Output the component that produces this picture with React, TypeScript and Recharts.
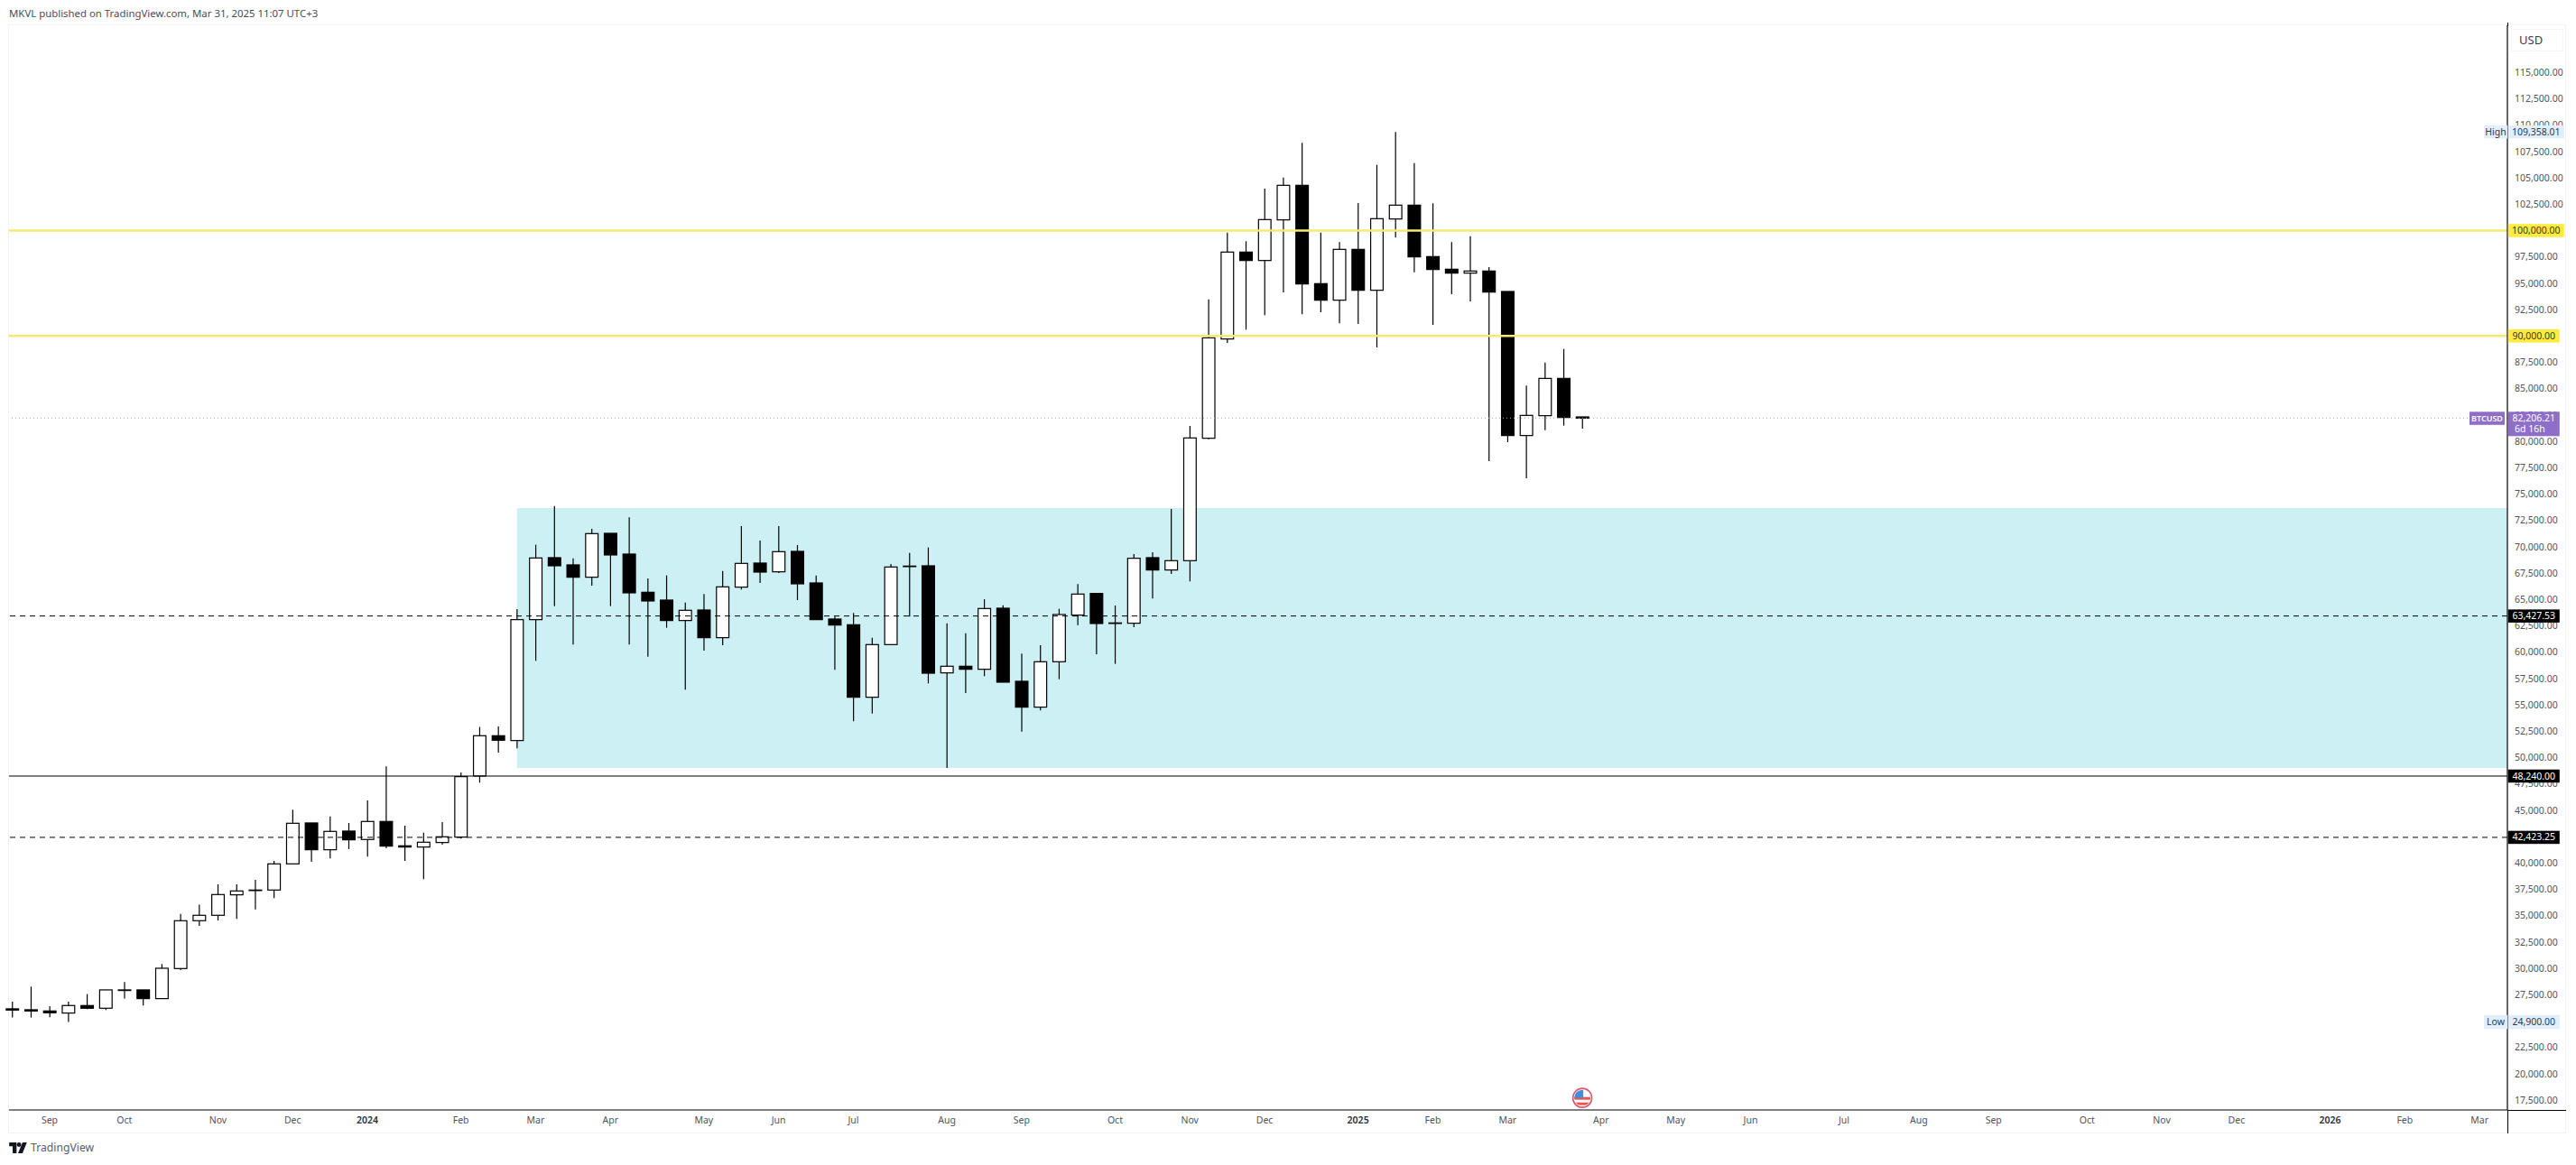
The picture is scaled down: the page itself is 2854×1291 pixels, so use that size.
import { Bar, ComposedChart, ReferenceArea, ReferenceDot, ReferenceLine, XAxis, YAxis } from 'recharts'

// weekly BTCUSD candles
const opens = [
  26153, 26067, 25953, 25754, 26467, 26210, 27894, 27951, 27123, 29977, 34515, 35029, 36970, 37398, 37426, 39909, 43791,
  41250, 43020, 42221, 43933, 41622, 41507, 41935, 42449, 48243, 52067, 51610, 63083, 68963, 68278, 67108, 71274, 69305,
  65680, 64938, 62998, 63997, 61371, 66166, 68449, 67621, 69562, 66565, 63140, 62598, 55720, 60715, 68135, 68192, 58032,
  58660, 58374, 64168, 57233, 54779, 59088, 63512, 65566, 62770, 62741, 68963, 67793, 68677, 80293, 89711, 97959, 97160,
  101013, 104295, 94963, 93393, 98216, 94335, 101099, 102411, 97531, 96333, 95961, 96161, 94221, 80551, 82434, 85972, 82319,
]
const highs = [
  26838, 28265, 26410, 26838, 27551, 27979, 28693, 27951, 30405, 35171, 36028, 37968, 37968, 38397, 40194, 45046, 43791,
  44418, 43791, 45931, 49156, 43534, 42877, 43876, 48585, 52895, 52952, 64082, 70190, 73872, 68906, 71702, 71274, 72787,
  66993, 67279, 64710, 65509, 67707, 71959, 70589, 71959, 70161, 67279, 63369, 63711, 61371, 68363, 69419, 69933, 62741,
  61799, 65024, 64453, 59858, 60657, 64111, 66451, 65566, 64425, 69305, 69476, 73586, 81463, 93479, 99814, 98987, 103981,
  105037, 108319, 99814, 98901, 102611, 106236, 109358, 106407, 102583, 98901, 99472, 96532, 94221, 85288, 87485, 88770, 82348,
]
const lows = [
  25326, 25326, 25354, 24900, 26125, 26039, 27123, 26467, 27123, 29835, 34030, 34544, 34686, 35599, 36656, 39909, 40108,
  40422, 41307, 40594, 41393, 40194, 38453, 41735, 42306, 47615, 50469, 50868, 59174, 64368, 60715, 66309, 64368, 60715,
  59573, 62313, 56433, 60144, 60657, 65937, 66565, 67507, 64938, 63083, 58317, 53437, 54179, 60657, 63369, 57033, 49013,
  56120, 57718, 57147, 52467, 54464, 57432, 62569, 59801, 58888, 62370, 65081, 67421, 66708, 80207, 89340, 90596, 91966,
  94135, 92051, 92251, 91196, 91139, 88912, 99329, 96047, 91053, 93964, 93279, 78124, 79922, 76497, 81064, 81492, 81206,
]
const closes = [
  26039, 25953, 25782, 26467, 26210, 27951, 27951, 27123, 30006, 34515, 35029, 36998, 37340, 37426, 39909, 43762, 41250,
  42992, 42192, 43933, 41593, 41507, 41964, 42478, 48186, 52067, 51639, 63083, 68934, 68192, 67108, 71246, 69220, 65623,
  64853, 62998, 63968, 61371, 66194, 68420, 67593, 69533, 66480, 63083, 62569, 55720, 60715, 68078, 68164, 57999, 58660,
  58374, 64139, 57147, 54779, 59088, 63569, 65509, 62713, 62741, 68906, 67793, 68677, 80322, 89825, 97959, 97160, 101042,
  104295, 94934, 93393, 98216, 94335, 101127, 102411, 97503, 96304, 95961, 96161, 94163, 80551, 82462, 85972, 82263, 82206,
]

const priceTicks = [
  17500, 20000, 22500, 25000, 27500, 30000, 32500, 35000, 37500, 40000, 42500, 45000, 47500, 50000, 52500, 55000, 57500,
  60000, 62500, 65000, 67500, 70000, 72500, 75000, 77500, 80000, 82500, 85000, 87500, 90000, 92500, 95000, 97500, 100000,
  102500, 105000, 107500, 110000, 112500, 115000,
]
// prices that get a coloured tag on the scale
const taggedPrices = [109358.01, 82206.21, 63427.53, 48240.01, 42423.25, 24900.01, 100000.01, 90000.01]
const timeTickSlots = [2, 6, 11, 15, 19, 24, 28, 32, 37, 41, 45, 50, 54, 59, 63, 67, 72, 76, 80, 85, 89, 93, 98, 102, 106, 111, 115, 119, 124, 128, 132]
const timeTickLabels = [
  'Sep', 'Oct', 'Nov', 'Dec', '2024', 'Feb', 'Mar', 'Apr', 'May', 'Jun', 'Jul', 'Aug', 'Sep', 'Oct', 'Nov', 'Dec', '2025',
  'Feb', 'Mar', 'Apr', 'May', 'Jun', 'Jul', 'Aug', 'Sep', 'Oct', 'Nov', 'Dec', '2026', 'Feb', 'Mar',
]

const candles = opens.map((open, i) => ({
  slot: i,
  open,
  close: closes[i],
  high: highs[i],
  low: lows[i],
  range: [lows[i], highs[i]],
}))

const FONT = '"Noto Sans", Roboto, sans-serif'
const fmt = (v: number) => v.toLocaleString('en-US', { minimumFractionDigits: 2, maximumFractionDigits: 2 })

const tagLook: Record<string, any> = {
  '109358.01': { w: 62, h: 14.5, bg: '#e3eefb', color: '#2a3a55', name: 'High', text: '109,358.01' },
  '82206.21': { w: 57, h: 27, bg: '#8e6ec8', color: '#fff', text: '82,206.21', sub: '6d 16h', name: 'BTCUSD', nameW: 39, nameGap: 3, nameWeight: 600, nameSize: 9, tall: true },
  '63427.53': { w: 57, h: 14.5, bg: '#000', color: '#fff', text: '63,427.53' },
  '48240.01': { w: 57, h: 14.5, bg: '#000', color: '#fff', text: '48,240.00' },
  '42423.25': { w: 57, h: 14.5, bg: '#000', color: '#fff', text: '42,423.25' },
  '24900.01': { w: 57, h: 15.5, bg: '#e3eefb', color: '#2a3a55', name: 'Low', text: '24,900.00' },
  '100000.01': { w: 62, h: 14.5, bg: '#ffeb3b', color: '#3a3a2a', text: '100,000.00' },
  '90000.01': { w: 57, h: 14.5, bg: '#ffeb3b', color: '#3a3a2a', text: '90,000.00' },
}

function Candle(props: any) {
  const { x, y, width, height, payload } = props
  const perUnit = height / (payload.high - payload.low || 1)
  const top = y + (payload.high - Math.max(payload.open, payload.close)) * perUnit
  const bottom = y + (payload.high - Math.min(payload.open, payload.close)) * perUnit
  const up = payload.close >= payload.open
  const mid = x + width / 2
  return (
    <g>
      <line x1={mid} x2={mid} y1={y} y2={y + height} stroke="#000" strokeWidth={1.2} />
      <rect
        x={x + 0.6}
        y={top}
        width={width - 1.2}
        height={Math.max(bottom - top, 0.6)}
        fill={up ? '#fff' : '#000'}
        stroke="#000"
        strokeWidth={1.2}
      />
    </g>
  )
}

function TimeTick({ x, y, payload }: any) {
  const label = timeTickLabels[timeTickSlots.indexOf(payload.value)]
  const isYear = /^\d+$/.test(label)
  return (
    <text x={x} y={y + 7} textAnchor="middle" fontFamily={FONT} fontSize={10.5} fill={isYear ? '#2a2e39' : '#50535e'} fontWeight={isYear ? 600 : 400}>
      {label}
    </text>
  )
}

// plain labels first, tags come later in the tick list so they cover them
function PriceTick({ x, y, payload }: any) {
  const look = tagLook[String(payload.value)]
  if (!look) {
    return (
      <text x={x} y={y + 3.7} fontFamily={FONT} fontSize={10.5} fill="#50535e">
        {fmt(payload.value)}
      </text>
    )
  }
  const ax = x - 8
  const top = y - (look.tall ? 7 : look.h / 2)
  const nameW = look.nameW ?? 26
  const nameGap = look.nameGap ?? 0
  return (
    <g fontFamily={FONT} fontSize={10.5}>
      {look.name && (
        <>
          <rect x={ax - nameW - nameGap} y={top} width={nameW} height={look.tall ? 14.5 : look.h} fill={look.bg} />
          <text x={ax - nameW / 2 - nameGap} y={top + 10.8} textAnchor="middle" fill={look.color} fontWeight={look.nameWeight} fontSize={look.nameSize}>
            {look.name}
          </text>
        </>
      )}
      <rect x={ax + 0.8} y={top} width={look.w} height={look.h} fill={look.bg} />
      <text x={ax + 0.8 + look.w / 2} y={top + 10.8} textAnchor="middle" fill={look.color}>
        {look.text}
      </text>
      {look.sub && (
        <text x={ax + 8} y={top + 22.5} fill={look.color}>
          {look.sub}
        </text>
      )}
    </g>
  )
}

function EventFlag({ cx, cy }: any) {
  return (
    <g>
      <clipPath id="flag">
        <circle cx={cx} cy={cy} r={9} />
      </clipPath>
      <circle cx={cx} cy={cy} r={10.5} fill="#fff" stroke="#e0556b" strokeWidth={1.6} />
      <g clipPath="url(#flag)">
        <rect x={cx - 10} y={cy - 10} width={20} height={20} fill="#fff" />
        <rect x={cx - 10} y={cy - 1} width={20} height={3} fill="#e8574f" />
        <rect x={cx - 10} y={cy + 5} width={20} height={3} fill="#e8574f" />
        <rect x={cx - 10} y={cy - 10} width={11} height={10} fill="#3f8fdc" />
      </g>
    </g>
  )
}

export default function App() {
  return (
    <div style={{ position: 'absolute', left: 0, top: 0, width: 2854, height: 1291, background: '#fff', overflow: 'hidden' }}>
      <div style={{ position: 'absolute', left: 10, top: 7, fontFamily: FONT, fontSize: 11.4, color: '#4a4d55', whiteSpace: 'nowrap' }}>
        MKVL published on TradingView.com, Mar 31, 2025 11:07 UTC+3
      </div>
      {/* pane frame */}
      <div style={{ position: 'absolute', left: 9, top: 27, width: 2834, height: 1229, border: '1px solid #f0f3fa', boxSizing: 'border-box' }} />
      <ComposedChart
        width={2854}
        height={1291}
        data={candles}
        margin={{ top: 28, right: 11, bottom: 35, left: 10 }}
        style={{ position: 'absolute', left: 0, top: 0 }}
      >
        <XAxis
          type="number"
          dataKey="slot"
          domain={[-0.174, 133.49]}
          ticks={timeTickSlots}
          interval={0}
          height={26}
          tick={<TimeTick />}
          tickLine={false}
          axisLine={{ stroke: '#000', strokeWidth: 1 }}
        />
        <YAxis
          orientation="right"
          width={65}
          domain={[16559, 119479]}
          ticks={[...priceTicks, ...taggedPrices]}
          interval={0}
          tick={<PriceTick />}
          tickLine={false}
          axisLine={{ stroke: '#000', strokeWidth: 1.2 }}
        />
        <ReferenceArea x1={27} x2={133.49} y1={49013} y2={73672} fill="#ccf0f3" fillOpacity={1} stroke="none" />
        <ReferenceLine y={100000} stroke="#f7ea6e" strokeWidth={2.6} />
        <ReferenceLine y={90000} stroke="#f7ea6e" strokeWidth={2.6} />
        <ReferenceLine y={82206.21} stroke="#a8a8a8" strokeWidth={1} strokeDasharray="1 3" />
        <ReferenceLine y={63427.53} stroke="#000" strokeWidth={1} strokeDasharray="6 5" />
        <ReferenceLine y={48240} stroke="#000" strokeWidth={1} />
        <ReferenceLine y={42423.25} stroke="#000" strokeWidth={1} strokeDasharray="6 5" />
        <Bar dataKey="range" barSize={15} shape={<Candle />} isAnimationActive={false} />
        <ReferenceDot x={84} y={17700} r={10} shape={<EventFlag />} />
      </ComposedChart>
      {/* price scale corner pieces */}
      <div style={{ position: 'absolute', left: 2778, top: 1230, width: 65, height: 1, background: '#000' }} />
      <div style={{ position: 'absolute', left: 2778, top: 1230, width: 1, height: 26, background: '#000' }} />
      <div style={{ position: 'absolute', left: 2778, top: 25, width: 1, height: 4, background: '#000' }} />
      <div style={{ position: 'absolute', left: 2782, top: 32, width: 58, height: 25, paddingLeft: 8, border: '1px solid #f3f5fa', boxSizing: 'border-box', fontFamily: FONT, fontSize: 13, color: '#3a3d45', lineHeight: '23px' }}>
        USD
      </div>
      <div style={{ position: 'absolute', left: 10, top: 1263, display: 'flex', alignItems: 'center', fontFamily: FONT, fontSize: 12.2, color: '#5a5d66' }}>
        <svg width={20} height={12} viewBox="0 0 36 22" style={{ marginRight: 4 }}>
          <path d="M0 0h15v22H7V8H0z" fill="#131722" />
          <circle cx="20" cy="4.5" r="4.5" fill="#131722" />
          <path d="M27 0h9l-9 22h-9z" fill="#131722" />
        </svg>
        TradingView
      </div>
    </div>
  )
}
